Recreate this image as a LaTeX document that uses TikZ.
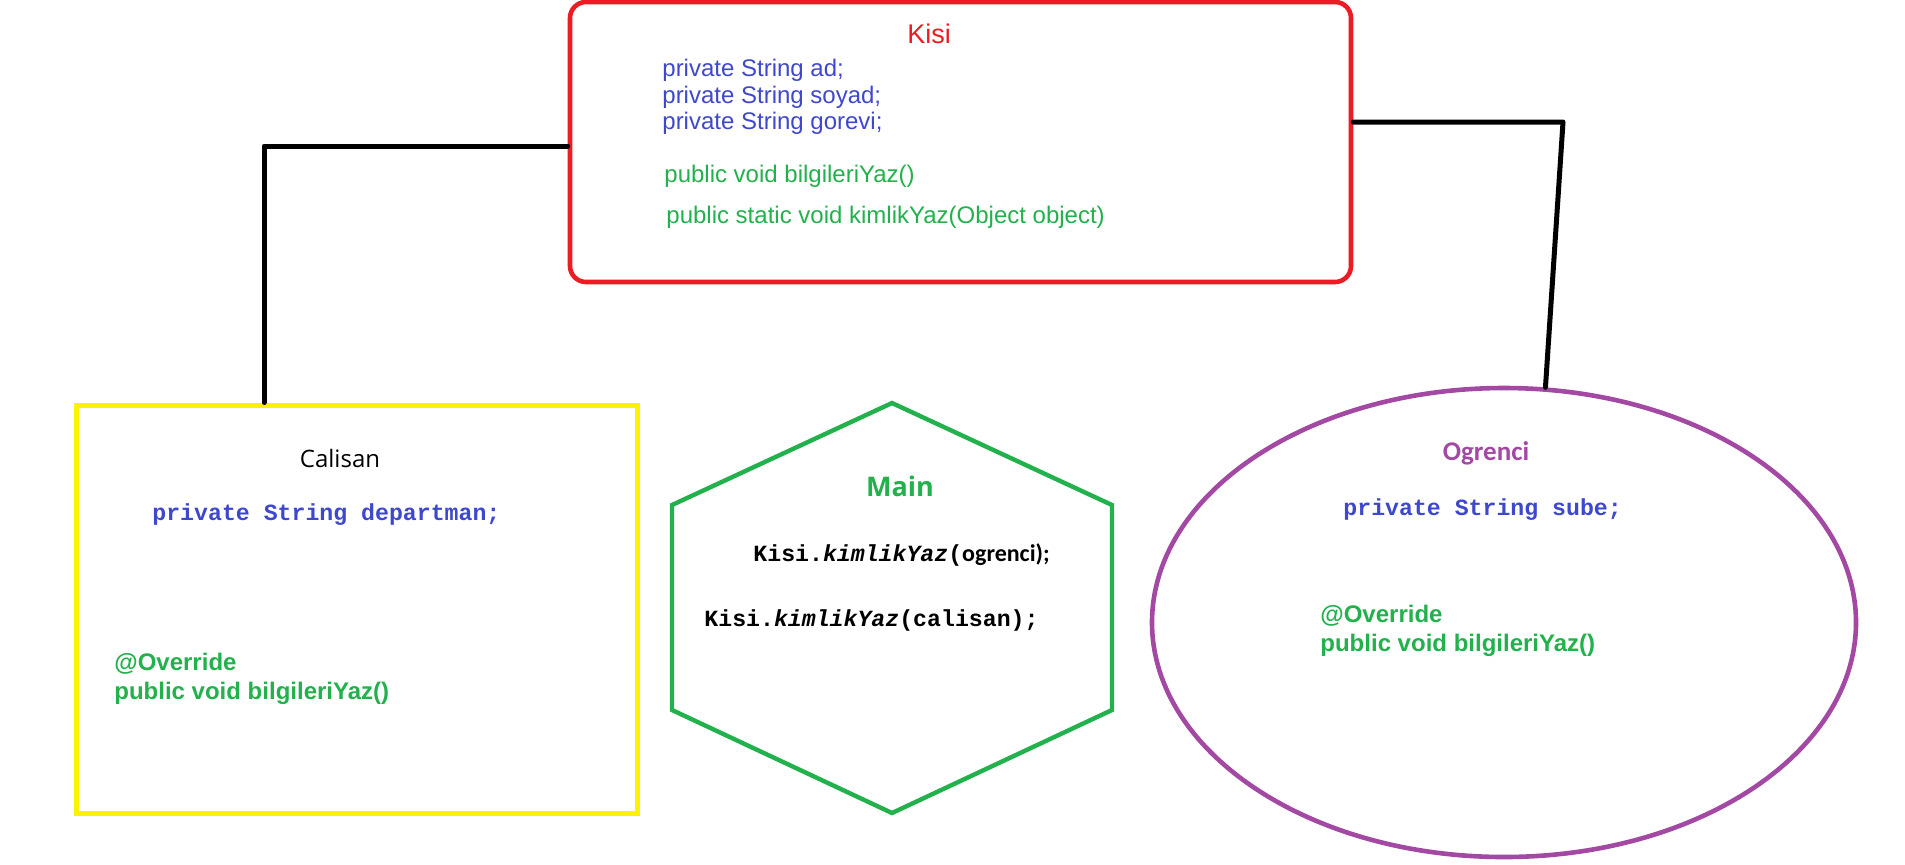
\documentclass[tikz,border=0pt]{standalone}
\usepackage{fontspec}
\setmainfont{Liberation Sans}
\setmonofont{Liberation Mono}
\newfontfamily\titlefont{Open Sans}
\newfontfamily\calfont{Carlito}
\usetikzlibrary{shapes.geometric}
\definecolor{kred}{HTML}{ED1C24}
\definecolor{kyellow}{HTML}{FFF200}
\definecolor{kgreen}{HTML}{22B14C}
\definecolor{kpurple}{HTML}{A349A4}
\definecolor{kblue}{HTML}{3F48CC}
\tikzset{
 conn/.style={draw=black, line width=2.5pt, line join=round, line cap=round},
 kisibox/.style={draw=kred, line width=2.3pt, rounded corners=8pt, minimum width=390.5pt, minimum height=140pt, inner sep=0pt},
 calbox/.style={draw=kyellow, line width=2.5pt, minimum width=280.5pt, minimum height=204pt, inner sep=0pt},
 ogrbox/.style={ellipse, draw=kpurple, line width=2.3pt, minimum width=352pt, minimum height=234.5pt, inner sep=0pt},
 hexline/.style={draw=kgreen, line width=2.2pt, line join=miter},
 txt/.style={inner sep=0pt, anchor=base west},
 ttl/.style={inner sep=0pt, anchor=base},
 sans/.style={font=\fontsize{12}{14}\selectfont},
 sansb/.style={font=\fontsize{12}{14}\selectfont\bfseries},
 code/.style={font=\fontsize{11.6}{14}\selectfont\ttfamily\bfseries},
}
\begin{document}
\begin{tikzpicture}[x=0.5pt,y=-0.5pt]
\useasboundingbox[fill=white] (0,0) rectangle (1905,864);
% shapes
\node[kisibox] (kisi) at (960.5,142) {};
\node[calbox] (calisan) at (356.5,609) {};
\node[ogrbox] (ogrenci) at (1504,622.5) {};
\draw[hexline] (892,403) -- (1112,505) -- (1112,710) -- (892,813) -- (672,710) -- (672,505) -- cycle;
% connectors
\coordinate (lb) at (264,146);
\coordinate (rb) at (1563,122);
\draw[conn] (kisi.west |- lb) -- (lb) -- (lb |- calisan.north);
\draw[conn] (kisi.east |- rb) -- (rb) -- (ogrenci.80);
% Kisi texts
\node[ttl, text=kred, font=\fontsize{13.5}{16}\selectfont] (kt) at (929,43) {Kisi};
\node[txt, sans, text=kblue] (k1) at (662,76) {private String ad;};
\node[txt, sans, text=kblue] (k2) at (662,103) {private String soyad;};
\node[txt, sans, text=kblue] (k3) at (662,129) {private String gorevi;};
\node[txt, sans, text=kgreen] (k4) at (664,182) {public void bilgileriYaz()};
\node[txt, sans, text=kgreen] (k5) at (666,223) {public static void kimlikYaz(Object object)};
% Calisan texts
\node[ttl, text=black, font=\fontsize{12}{14}\selectfont\titlefont] (ct) at (340,467) {Calisan};
\node[txt, code, text=kblue] (c1) at (152,520) {private String departman;};
\node[txt, sansb, text=kgreen] (c2) at (114,670) {@Override};
\node[txt, sansb, text=kgreen] (c3) at (114,699) {public void bilgileriYaz()};
% Main texts
\node[ttl, text=kgreen, font=\fontsize{13.5}{16}\selectfont\titlefont\bfseries] (mt) at (900,496) {Main};
\node[txt, code, text=black] (m1) at (753,561) {Kisi.\textit{kimlikYaz}({\calfont\bfseries\fontsize{12}{14}\selectfont ogrenci);}};
\node[txt, code, text=black] (m2) at (704,626) {Kisi.\textit{kimlikYaz}(calisan);};
% Ogrenci texts
\node[ttl, text=kpurple, font=\fontsize{13.5}{16}\selectfont\calfont\bfseries] (ot) at (1486,460) {Ogrenci};
\node[txt, code, text=kblue] (o1) at (1343,515) {private String sube;};
\node[txt, sansb, text=kgreen] (o2) at (1320,622) {@Override};
\node[txt, sansb, text=kgreen] (o3) at (1320,651) {public void bilgileriYaz()};
\end{tikzpicture}
\end{document}
